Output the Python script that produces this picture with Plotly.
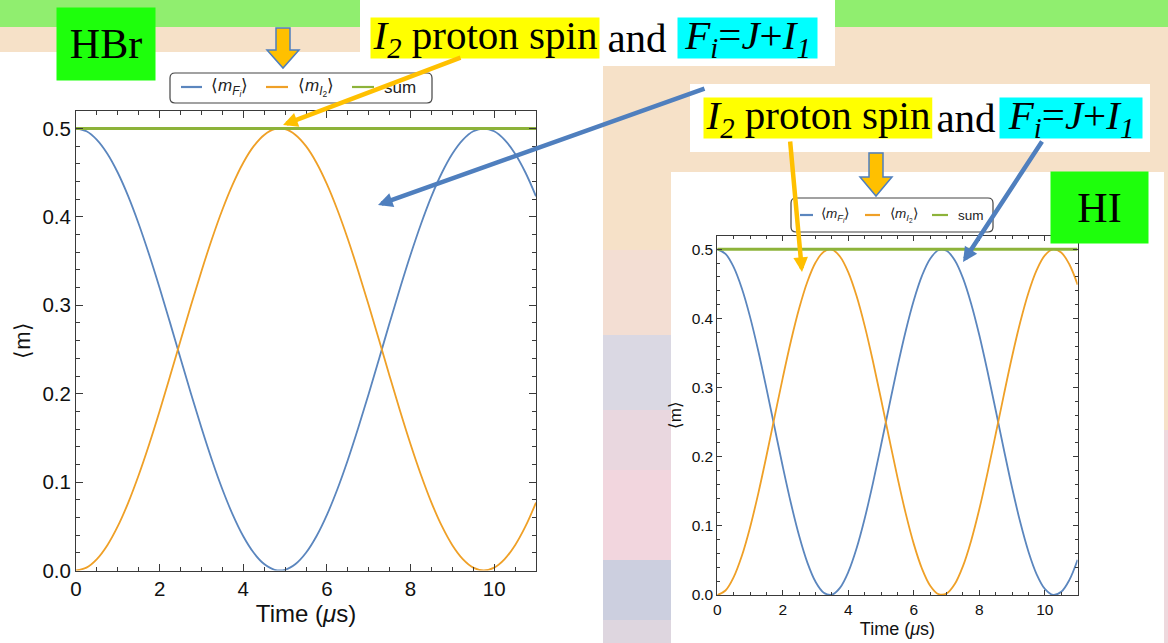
import plotly.graph_objects as go

W, H = 1168, 643

# ---- data: spin projections vs. time (µs), sampled every 0.25 µs ----
time_us = [i * 0.25 for i in range(45)]

hbr_mF = [0.5, 0.4968, 0.4871, 0.4714, 0.4499, 0.4232, 0.3920, 0.3572, 0.3196,
          0.2801, 0.2399, 0.2000, 0.1614, 0.1250, 0.0919, 0.0629, 0.0387, 0.0200,
          0.0073, 0.0008, 0.0008, 0.0073, 0.0200, 0.0387, 0.0629, 0.0919, 0.1250,
          0.1614, 0.2000, 0.2399, 0.2802, 0.3196, 0.3572, 0.3920, 0.4232, 0.4499,
          0.4714, 0.4871, 0.4968, 0.5, 0.4968, 0.4871, 0.4714, 0.4499, 0.4232]
hbr_mI2 = [0.0, 0.0032, 0.0129, 0.0286, 0.0501, 0.0768, 0.1080, 0.1428, 0.1804,
           0.2199, 0.2601, 0.3000, 0.3386, 0.3750, 0.4081, 0.4371, 0.4613, 0.4800,
           0.4927, 0.4992, 0.4992, 0.4927, 0.4800, 0.4613, 0.4371, 0.4081, 0.3750,
           0.3386, 0.3000, 0.2601, 0.2198, 0.1804, 0.1428, 0.1080, 0.0768, 0.0501,
           0.0286, 0.0129, 0.0032, 0.0, 0.0032, 0.0129, 0.0286, 0.0501, 0.0768]

hi_mF = [0.5, 0.4935, 0.4742, 0.4433, 0.4023, 0.3533, 0.2989, 0.2420, 0.1855,
         0.1323, 0.0853, 0.0469, 0.0191, 0.0034, 0.0005, 0.0107, 0.0333, 0.0672,
         0.1107, 0.1615, 0.2169, 0.2740, 0.3299, 0.3816, 0.4264, 0.4620, 0.4865,
         0.4987, 0.4979, 0.4842, 0.4583, 0.4214, 0.3757, 0.3233, 0.2672, 0.2101,
         0.1551, 0.1051, 0.0627, 0.0300, 0.0088, 0.0002, 0.0046, 0.0219, 0.0510]
hi_mI2 = [0.0, 0.0065, 0.0258, 0.0567, 0.0977, 0.1467, 0.2011, 0.2580, 0.3145,
          0.3677, 0.4147, 0.4531, 0.4809, 0.4966, 0.4995, 0.4893, 0.4667, 0.4328,
          0.3893, 0.3385, 0.2831, 0.2260, 0.1701, 0.1184, 0.0736, 0.0380, 0.0135,
          0.0013, 0.0021, 0.0158, 0.0417, 0.0786, 0.1243, 0.1767, 0.2328, 0.2899,
          0.3449, 0.3949, 0.4373, 0.4700, 0.4912, 0.4998, 0.4954, 0.4781, 0.4490]

hbr_sum = [a + b for a, b in zip(hbr_mF, hbr_mI2)]
hi_sum = [a + b for a, b in zip(hi_mF, hi_mI2)]

x_ticks = [0, 2, 4, 6, 8, 10]
y_ticks = [0.0, 0.1, 0.2, 0.3, 0.4, 0.5]

C_BLUE = "#5B86BE"
C_ORANGE = "#EFA027"
C_GREEN = "#8DB33A"
C_FRAME = "#3a3a3a"
C_PEACH = "#F6E1C8"
C_LIME = "#1EFF0C"
C_BAND = "#90EE6F"
C_YELLOW = "#FFFF00"
C_CYAN = "#00FFFF"
C_ARROW_Y = "#FFC000"
C_ARROW_B = "#4F7FBE"

SANS = "Liberation Sans, Arial, sans-serif"
SERIF = "Liberation Serif, Times New Roman, serif"


def px(x):
    return x / W


def py(y):
    return 1 - y / H


fig = go.Figure()

# ---- curves ----
for xa, ya, mF, mI2, sm in [("x", "y", hbr_mF, hbr_mI2, hbr_sum),
                            ("x2", "y2", hi_mF, hi_mI2, hi_sum)]:
    fig.add_trace(go.Scatter(x=time_us, y=mF, xaxis=xa, yaxis=ya, mode="lines",
                             line=dict(color=C_BLUE, width=1.8, shape="spline"),
                             showlegend=False))
    fig.add_trace(go.Scatter(x=time_us, y=mI2, xaxis=xa, yaxis=ya, mode="lines",
                             line=dict(color=C_ORANGE, width=1.8, shape="spline"),
                             showlegend=False))
    fig.add_trace(go.Scatter(x=time_us, y=sm, xaxis=xa, yaxis=ya, mode="lines",
                             line=dict(color=C_GREEN, width=3),
                             showlegend=False))


def frame_axes(tick_size, title_size, ylabel_size, ticklen, minor_len):
    common = dict(showline=True, linecolor=C_FRAME, linewidth=1, mirror="allticks",
                  ticks="inside", tickcolor=C_FRAME, ticklen=ticklen, tickwidth=1,
                  showgrid=False, zeroline=False, automargin=False,
                  tickfont=dict(family=SANS, size=tick_size, color="#111"))
    xa = dict(common, range=[0, 11], tickvals=x_ticks,
              minor=dict(ticks="inside", ticklen=minor_len, dtick=0.5, tick0=0,
                         tickcolor=C_FRAME, showgrid=False),
              title=dict(text="Time (<i>μ</i>s)",
                         font=dict(family=SANS, size=title_size, color="#111"),
                         standoff=5))
    ya = dict(common, range=[0, 0.52], tickvals=y_ticks, tickformat=".1f",
              minor=dict(ticks="inside", ticklen=minor_len, dtick=0.02, tick0=0,
                         tickcolor=C_FRAME, showgrid=False),
              title=dict(text="⟨m⟩",
                         font=dict(family=SANS, size=ylabel_size, color="#111"),
                         standoff=5))
    return xa, ya


xa1, ya1 = frame_axes(20.5, 24, 22, 7, 4)
xa2, ya2 = frame_axes(15.5, 18, 17, 5, 3)
xa1["domain"] = [px(76), px(536)]
ya1["domain"] = [py(570.5), py(110.8)]
xa2["domain"] = [px(717.3), px(1077.6)]
ya2["domain"] = [py(595), py(235.5)]
ya1["anchor"] = "x"
xa1["anchor"] = "y"
xa2["anchor"] = "y2"
ya2["anchor"] = "x2"

shapes = []
annotations = []


def rect(x0, y0, x1, y1, color, layer="below", line=None):
    shapes.append(dict(type="rect", xref="paper", yref="paper",
                       x0=px(x0), x1=px(x1), y0=py(y1), y1=py(y0),
                       fillcolor=color, layer=layer,
                       line=line or dict(width=0)))


# ---- slide background ----
rect(0, 0, W, 27, C_BAND)
rect(603, 250, 671, 335, "#F3DED3")
rect(603, 335, 671, 410, "#DAD8E3")
rect(603, 410, 671, 470, "#E9D7DF")
rect(603, 470, 671, 560, "#F2D6DE")
rect(603, 560, 671, 620, "#CCCFDF")
rect(603, 620, 671, 643, "#DED6DF")
rect(1164, 430, W, 643, "#EED8DD")
rect(0, 52, 603, H, "white")
rect(360, 0, 835, 66, "white")
rect(690, 84, 1150, 152, "white")
rect(671, 172, 1164, H, "white")


def rounded_box(x0, y0, x1, y1, r):
    p = (f"M {px(x0 + r)},{py(y0)} L {px(x1 - r)},{py(y0)} "
         f"Q {px(x1)},{py(y0)} {px(x1)},{py(y0 + r)} "
         f"L {px(x1)},{py(y1 - r)} Q {px(x1)},{py(y1)} {px(x1 - r)},{py(y1)} "
         f"L {px(x0 + r)},{py(y1)} Q {px(x0)},{py(y1)} {px(x0)},{py(y1 - r)} "
         f"L {px(x0)},{py(y0 + r)} Q {px(x0)},{py(y0)} {px(x0 + r)},{py(y0)} Z")
    shapes.append(dict(type="path", xref="paper", yref="paper", path=p,
                       fillcolor="white", line=dict(color="#444", width=1.2),
                       layer="above"))


def legend_block(box, yc, entries, font_size):
    rounded_box(*box, 5)
    for (sx0, sx1, tx, color, label) in entries:
        shapes.append(dict(type="line", xref="paper", yref="paper",
                           x0=px(sx0), x1=px(sx1), y0=py(yc), y1=py(yc),
                           line=dict(color=color, width=2.2), layer="above"))
        annotations.append(dict(x=px(tx), y=py(yc), xref="paper", yref="paper",
                                xanchor="left", yanchor="middle", showarrow=False,
                                text=label,
                                font=dict(family=SANS, size=font_size, color="#222")))


lab_F = "⟨<i>m</i><sub><i>F</i><sub><i>i</i></sub></sub>⟩"
lab_I = "⟨<i>m</i><sub><i>I</i><sub>2</sub></sub>⟩"

legend_block((170, 73, 432, 103), 87,
             [(181, 202, 209, C_BLUE, lab_F),
              (266, 288, 296, C_ORANGE, lab_I),
              (352, 374, 382, C_GREEN, "sum")], 17)
legend_block((791, 198, 993, 232), 215,
             [(800, 813, 819, C_BLUE, lab_F),
              (865, 880, 888, C_ORANGE, lab_I),
              (932, 948, 956, C_GREEN, "sum")], 13.5)


# ---- block arrows pointing at the legends ----
def block_arrow(xc, y_top, y_neck, y_tip, shaft_w, head_w):
    pts = [(xc - shaft_w / 2, y_top), (xc + shaft_w / 2, y_top),
           (xc + shaft_w / 2, y_neck), (xc + head_w / 2, y_neck),
           (xc, y_tip), (xc - head_w / 2, y_neck), (xc - shaft_w / 2, y_neck)]
    p = "M " + " L ".join(f"{px(a)},{py(b)}" for a, b in pts) + " Z"
    shapes.append(dict(type="path", xref="paper", yref="paper", path=p,
                       fillcolor=C_ARROW_Y, line=dict(color=C_ARROW_B, width=1.5),
                       layer="above"))


block_arrow(283, 28, 50, 68, 14, 32)
block_arrow(876, 153, 177, 196, 14, 32)


# ---- labels ----
def label_box(xc, yc, w, h, text, bg, size):
    annotations.append(dict(x=px(xc), y=py(yc), xref="paper", yref="paper",
                            xanchor="center", yanchor="middle", showarrow=False,
                            width=w, height=h, bgcolor=bg, borderpad=0,
                            text=text, font=dict(family=SERIF, size=size, color="black")))


label_box(106, 44, 98, 72, "HBr", C_LIME, 42)
label_box(1099, 207, 97, 71, "HI", C_LIME, 42)

t_I2 = "<i>I</i><sub><i>2</i></sub> proton spin"
t_F = "<i>F</i><sub><i>i</i></sub>=<i>J</i>+<i>I</i><sub><i>1</i></sub>"

label_box(485, 38, 228, 40, t_I2, C_YELLOW, 41)
label_box(637, 38, 70, 40, "and", "white", 41)
label_box(747, 38, 139, 40, t_F, C_CYAN, 41)

label_box(818, 118, 228, 40, t_I2, C_YELLOW, 41)
label_box(966, 118, 66, 40, "and", "white", 41)
label_box(1071, 118, 142, 40, t_F, C_CYAN, 41)


# ---- pointer lines ----
def pointer(x_tail, y_tail, x_head, y_head, color):
    annotations.append(dict(x=px(x_head), y=py(y_head), xref="paper", yref="paper",
                            ax=x_tail - x_head, ay=y_tail - y_head,
                            axref="pixel", ayref="pixel", text="", showarrow=True,
                            arrowhead=2, arrowsize=0.65, arrowwidth=4.5,
                            arrowcolor=color, standoff=0, startstandoff=0))


pointer(462, 57, 283, 125, C_ARROW_Y)
pointer(706, 88, 378, 205, C_ARROW_B)
pointer(790, 140, 802, 272, C_ARROW_Y)
pointer(1043, 140, 963, 262, C_ARROW_B)

fig.update_layout(
    width=W, height=H, margin=dict(l=0, r=0, t=0, b=0),
    paper_bgcolor=C_PEACH, plot_bgcolor="white",
    xaxis=xa1, yaxis=ya1, xaxis2=xa2, yaxis2=ya2,
    shapes=shapes, annotations=annotations, showlegend=False,
)

fig.write_html("out.html")
